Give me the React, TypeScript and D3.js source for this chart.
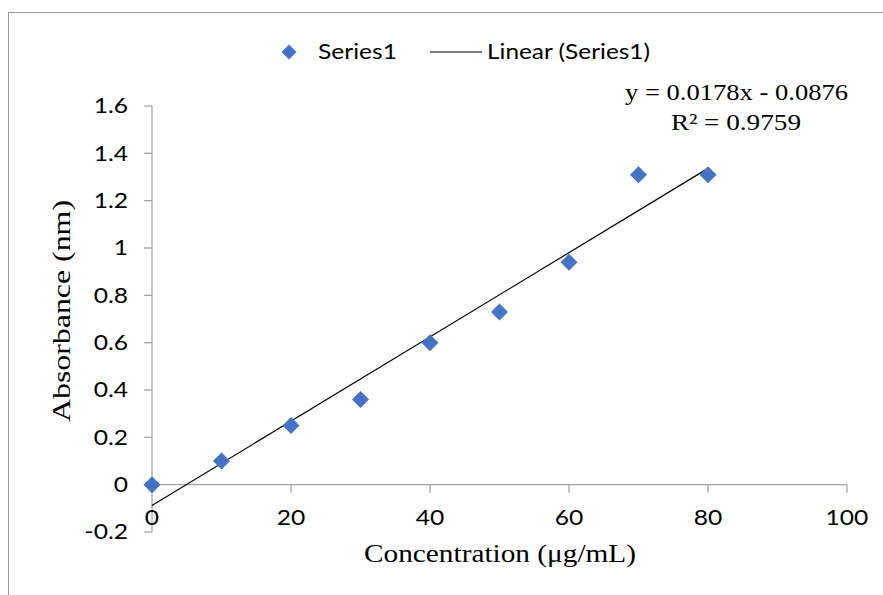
import React from "react";
import * as d3 from "d3";

const xValues = [0, 10, 20, 30, 40, 50, 60, 70, 80];
const yValues = [0, 0.1, 0.25, 0.36, 0.6, 0.73, 0.94, 1.31, 1.31];
const xTicks = [0, 20, 40, 60, 80, 100];
const yTicks = [-0.2, 0, 0.2, 0.4, 0.6, 0.8, 1, 1.2, 1.4, 1.6];
const slope = 0.0178;
const intercept = -0.0876;
const r2 = 0.9759;

const W = 883, H = 595;
const sans = "Lato, 'Open Sans', sans-serif";
const serif = "'Liberation Serif', 'Times New Roman', serif";
const axisColor = "#A6A6A6";
const blue = "#4472C4";
const SX = 1.2;

function T(props: { x: number; y: number; anchor?: string; size?: number; family?: string; sx?: number; children: React.ReactNode }) {
  const { x, y, anchor = "start", size = 20.5, family = sans, sx = SX, children } = props;
  return (
    <text transform={`translate(${x},${y}) scale(${sx},1)`} dy="0.35em" textAnchor={anchor} fontFamily={family} fontSize={size} fill="#000">
      {children}
    </text>
  );
}

export default function App() {
  const x = d3.scaleLinear().domain([0, 100]).range([152, 847]);
  const y = d3.scaleLinear().domain([-0.2, 1.6]).range([532, 106]);
  const diamondPath = `M0,-8.5L8.5,0L0,8.5L-8.5,0Z`;
  const trend = d3.line<number>().x(d => x(d)).y(d => y(slope * d + intercept));
  return (
    <svg width={W} height={H} style={{ position: "absolute", left: 0, top: 0 }}>
      <rect x={0} y={0} width={W} height={H} fill="#fff" />
      <rect x={8.5} y={12.5} width={W} height={H} fill="none" stroke="#9B9B9B" strokeWidth={1} />
      {/* y axis */}
      <line x1={x(0)} x2={x(0)} y1={y(1.6)} y2={y(-0.2)} stroke={axisColor} strokeWidth={1.3} />
      {yTicks.map(t => (
        <g key={t}>
          <line x1={x(0) - 8} x2={x(0)} y1={y(t)} y2={y(t)} stroke={axisColor} strokeWidth={1.3} />
          <T x={128} y={y(t)} anchor="end">{String(t)}</T>
        </g>
      ))}
      {/* x axis */}
      <line x1={x(0)} x2={x(100)} y1={y(0)} y2={y(0)} stroke={axisColor} strokeWidth={1.3} />
      {xTicks.map(t => (
        <g key={t}>
          <line x1={x(t)} x2={x(t)} y1={y(0)} y2={y(0) + 8} stroke={axisColor} strokeWidth={1.3} />
          <T x={x(t)} y={518} anchor="middle">{String(t)}</T>
        </g>
      ))}
      {/* trend line */}
      <path d={trend([0, 80]) ?? ""} fill="none" stroke="#000" strokeWidth={1.2} />
      {/* points */}
      {xValues.map((v, i) => (
        <path key={i} d={diamondPath} transform={`translate(${x(v)},${y(yValues[i])})`} fill={blue} />
      ))}
      {/* legend */}
      <path d={`M0,-7.5L7.5,0L0,7.5L-7.5,0Z`} transform="translate(289,52)" fill={blue} />
      <T x={318} y={52}>Series1</T>
      <line x1={430} x2={482} y1={52} y2={52} stroke="#000" strokeWidth={1.2} />
      <text x={487} y={52} dy="0.35em" textLength={163} lengthAdjust="spacingAndGlyphs" fontFamily={sans} fontSize={20.5} fill="#000">Linear (Series1)</text>
      {/* equation */}
      <text x={625} y={92} dy="0.35em" textLength={223} lengthAdjust="spacingAndGlyphs" fontFamily={serif} fontSize={23} fill="#000">
        {`y = ${slope}x - ${Math.abs(intercept)}`}
      </text>
      <text x={671} y={122} dy="0.35em" textLength={130} lengthAdjust="spacingAndGlyphs" fontFamily={serif} fontSize={23} fill="#000">
        {`R² = ${r2}`}
      </text>
      {/* axis titles */}
      <text x={364} y={553} dy="0.35em" textLength={272} lengthAdjust="spacingAndGlyphs" fontFamily={serif} fontSize={25} fill="#000">Concentration (μg/mL)</text>
      <text transform={`translate(70,422) rotate(-90)`} dy="0" textLength={222} lengthAdjust="spacingAndGlyphs" fontFamily={serif} fontSize={25} fill="#000">Absorbance (nm)</text>
    </svg>
  );
}
